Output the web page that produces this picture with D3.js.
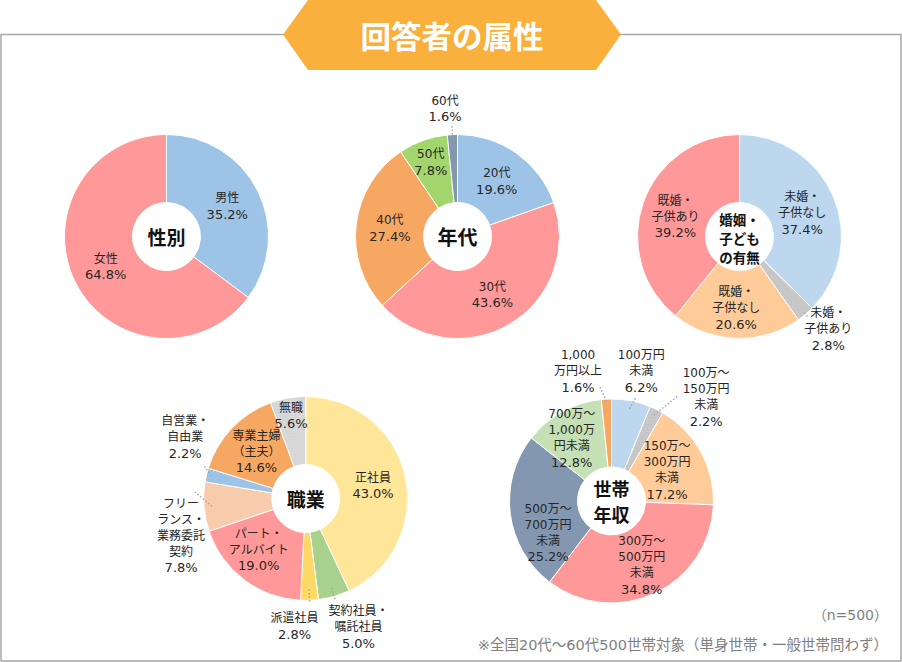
<!DOCTYPE html>
<html><head><meta charset="utf-8">
<script src="https://cdn.jsdelivr.net/npm/d3@7"></script>
<style>body{margin:0;background:#fff}svg{display:block}</style>
</head><body><svg id="c" width="902" height="662"></svg>
<script>
// ---------- data ----------
const titleText = "回答者の属性";
const sexCategories = ["男性", "女性"];
const sexValues = [35.2, 64.8];
const ageCategories = ["20代", "30代", "40代", "50代", "60代"];
const ageValues = [19.6, 43.6, 27.4, 7.8, 1.6];
const maritalCategories = ["未婚・\n子供なし", "未婚・\n子供あり", "既婚・\n子供なし", "既婚・\n子供あり"];
const maritalValues = [37.4, 2.8, 20.6, 39.2];
const jobCategories = ["正社員", "契約社員・\n嘱託社員", "派遣社員", "パート・\nアルバイト", "フリー\nランス・\n業務委託\n契約", "自営業・\n自由業", "専業主婦\n（主夫）", "無職"];
const jobValues = [43.0, 5.0, 2.8, 19.0, 7.8, 2.2, 14.6, 5.6];
const incomeCategories = ["100万円\n未満", "100万～\n150万円\n未満", "150万～\n300万円\n未満", "300万～\n500万円\n未満", "500万～\n700万円\n未満", "700万～\n1,000万\n円未満", "1,000\n万円以上"];
const incomeValues = [6.2, 2.2, 17.2, 34.8, 25.2, 12.8, 1.6];
const sampleNote = "（n=500）";
const footNote = "※全国20代～60代500世帯対象（単身世帯・一般世帯問わず）";

// ---------- styles / layout ----------
const LABEL_FONT = "'DejaVu Sans','Noto Sans CJK JP',sans-serif";
const CJK_FONT = "'Noto Sans CJK JP',sans-serif";
const R_IN = 34, R_OUT = 102;
const fmt = d3.format(".1f");

const svg = d3.select("#c");
const defs = svg.append("defs");
function dotPattern(id, base, dot) {
  const p = defs.append("pattern").attr("id", id).attr("width", 3).attr("height", 3).attr("patternUnits", "userSpaceOnUse");
  p.append("rect").attr("width", 3).attr("height", 3).attr("fill", base);
  p.append("circle").attr("cx", 1).attr("cy", 1).attr("r", 0.55).attr("fill", dot);
  return `url(#${id})`;
}
const grayA = dotPattern("gA", "#C9C9C9", "#B2B2B2");
const grayB = dotPattern("gB", "#D9D9D9", "#C2C2C2");

// frame
svg.append("rect").attr("x", 1).attr("y", 34.5).attr("width", 900).attr("height", 626.5)
  .attr("fill", "none").attr("stroke", "#A6A6A6").attr("stroke-width", 1.5);

// title banner
svg.append("polygon")
  .attr("points", [[283, 34.5], [308, 0], [596, 0], [621, 34.5], [596, 70], [308, 70]].map(p => p.join(",")).join(" "))
  .attr("fill", "#F9B03D");
svg.append("text").attr("x", 452).attr("y", 35).attr("text-anchor", "middle").attr("dominant-baseline", "central")
  .attr("font-family", CJK_FONT).attr("font-weight", "bold").attr("font-size", 30.5).attr("fill", "#fff").text(titleText);

function donut(cfg) {
  const g = svg.append("g").attr("transform", `translate(${cfg.cx},${cfg.cy})`);
  const arcs = d3.pie().sort(null).value(d => d)(cfg.values);
  const arc = d3.arc().innerRadius(R_IN).outerRadius(R_OUT);
  g.selectAll("path").data(arcs).join("path")
    .attr("d", arc).attr("fill", (d, i) => cfg.colors[i])
    .attr("stroke", "#fff").attr("stroke-width", 1);

  arcs.forEach((d, i) => {
    const mid = (d.startAngle + d.endAngle) / 2;
    const L = cfg.leaders[i];
    if (L) {
      const a2 = mid + L[2] * Math.PI / 180;
      g.append("line")
        .attr("x1", Math.sin(mid) * L[0]).attr("y1", -Math.cos(mid) * L[0])
        .attr("x2", Math.sin(a2) * L[1]).attr("y2", -Math.cos(a2) * L[1])
        .attr("stroke", "#A6A6A6").attr("stroke-width", 1.5).attr("stroke-dasharray", "1.5,2");
    }
    const r = cfg.labelR[i];
    const x = Math.sin(mid) * r + cfg.dx[i];
    const y = -Math.cos(mid) * r + cfg.dy[i];
    const lines = cfg.categories[i].split("\n").concat([fmt(d.data) + "%"]);
    const t = g.append("text").attr("text-anchor", "middle")
      .attr("font-family", LABEL_FONT).attr("fill", "#262626");
    lines.forEach((s, k) => {
      t.append("tspan").attr("x", x).attr("y", y + (k - (lines.length - 1) / 2) * 16)
        .attr("font-size", k === lines.length - 1 ? 13 : 12)
        .attr("dominant-baseline", "central").text(s);
    });
  });

  const c = g.append("text").attr("text-anchor", "middle")
    .attr("font-family", CJK_FONT).attr("font-weight", "bold").attr("font-size", cfg.centerSize).attr("fill", "#111");
  cfg.center.forEach((s, k) => {
    c.append("tspan").attr("x", 0).attr("y", (k - (cfg.center.length - 1) / 2) * cfg.centerGap + cfg.centerDy)
      .attr("dominant-baseline", "central").text(s);
  });
}

donut({
  cx: 166.5, cy: 236.5, categories: sexCategories, values: sexValues,
  colors: ["#9DC3E6", "#FF9999"],
  labelR: [68, 68], dx: [0, 0], dy: [0, 0], leaders: [null, null],
  center: ["性別"], centerSize: 19, centerGap: 0, centerDy: 0
});
donut({
  cx: 457.5, cy: 236.5, categories: ageCategories, values: ageValues,
  colors: ["#9DC3E6", "#FF9999", "#F6A862", "#A2D56B", "#8497B0"],
  labelR: [68, 68, 68, 79, 128], dx: [0, 0, 0, 0, -6], dy: [0, 0, 0, 0, 0],
  leaders: [null, null, null, null, [102, 113, 0]],
  center: ["年代"], centerSize: 20, centerGap: 0, centerDy: 0
});
donut({
  cx: 739.5, cy: 236.5, categories: maritalCategories, values: maritalValues,
  colors: ["#BDD7EE", grayA, "#FFCC99", "#FF9999"],
  labelR: [68, 128, 72, 68], dx: [0, 6, -1, 0], dy: [3, -5, 0, 3],
  leaders: [null, [100, 107, 0], null, null],
  center: ["婚姻・", "子ども", "の有無"], centerSize: 13.5, centerGap: 19, centerDy: 1.5
});
donut({
  cx: 305.7, cy: 498.5, categories: jobCategories, values: jobValues,
  colors: ["#FFE699", "#A9D18E", "#FFD966", "#FF9999", "#F8CBAD", "#9DC3E6", "#F6A862", grayB],
  labelR: [68, 128, 128, 68, 128, 128, 68, 84],
  dx: [1, 17, -16, -6, 3, 4, 0, 0], dy: [2, 6, 0, -3, 27, -32, 0, 0],
  leaders: [null, [93, 105, 0], [91, 104, 0], null, [94, 111, 8], [97, 108, 5], null, null],
  center: ["職業"], centerSize: 19, centerGap: 0, centerDy: 0
});
donut({
  cx: 611.5, cy: 501, categories: incomeCategories, values: incomeValues,
  colors: ["#BDD7EE", grayA, "#FFCC99", "#FF9999", "#8497B0", "#C5E0B4", "#F6A862"],
  labelR: [128, 128, 68, 71, 68, 68, 128],
  dx: [5, 38, -4, 0, 4, -7, -27], dy: [-4, 11, 2, 0, 23, -3, -2],
  leaders: [[94, 106, 2], [96, 124, 6], null, null, null, null, [100, 115, -3]],
  center: ["世帯", "年収"], centerSize: 18, centerGap: 26, centerDy: 0
});

// notes
svg.append("text").attr("x", 888).attr("y", 615).attr("text-anchor", "end").attr("dominant-baseline", "central")
  .attr("font-family", LABEL_FONT).attr("font-size", 14).attr("fill", "#7F7F7F").text(sampleNote);
svg.append("text").attr("x", 888).attr("y", 645).attr("text-anchor", "end").attr("dominant-baseline", "central")
  .attr("font-family", LABEL_FONT).attr("font-size", 14.5).attr("fill", "#7F7F7F").text(footNote);
</script>
</body></html>
